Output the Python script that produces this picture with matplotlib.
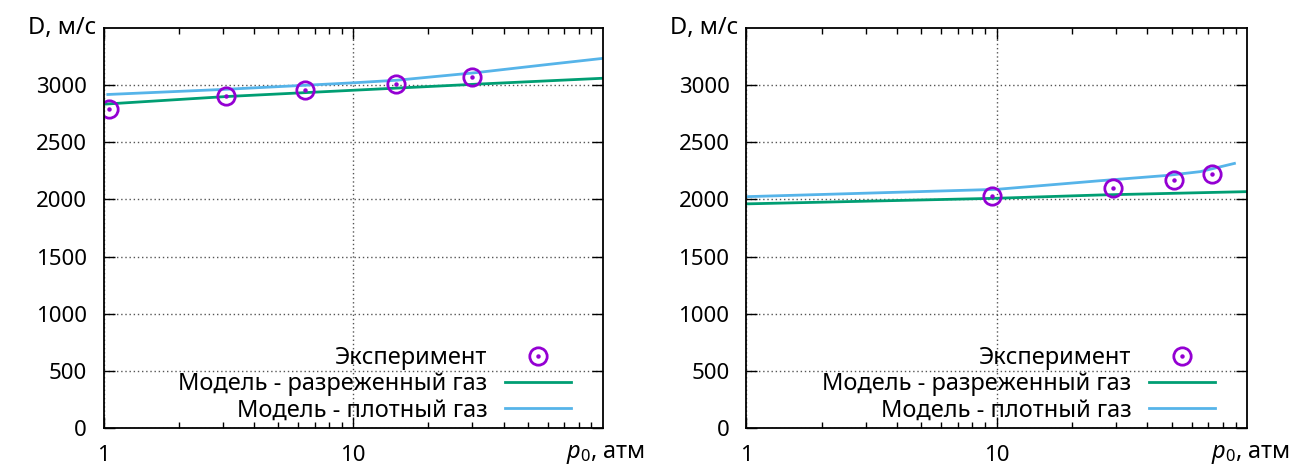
import matplotlib
matplotlib.use("Agg")
import matplotlib.pyplot as plt
from matplotlib.ticker import LogLocator, FixedLocator, FixedFormatter, NullFormatter
from matplotlib.legend_handler import HandlerTuple

plt.rcParams['font.family'] = ['Noto Sans', 'DejaVu Sans']
plt.rcParams['mathtext.fontset'] = 'custom'
plt.rcParams['mathtext.it'] = 'Noto Sans:italic'
plt.rcParams['mathtext.rm'] = 'Noto Sans'
plt.rcParams['font.size'] = 16

# левая панель
exp_p_left = [1.05, 3.08, 6.4, 14.9, 30.0]
exp_d_left = [2790, 2908, 2958, 3010, 3074]
rare_p_left = [1.0, 3.1, 10, 31, 100]
rare_d_left = [2833, 2900, 2955, 3008, 3060]
dense_p_left = [1.04, 3.0, 10, 15, 31, 61, 100]
dense_d_left = [2918, 2962, 3020, 3043, 3109, 3182, 3234]

# правая панель
exp_p_right = [9.6, 29.1, 51, 72.4]
exp_d_right = [2027, 2097, 2173, 2225]
rare_p_right = [1.0, 10, 26, 100]
rare_d_right = [1961, 2010, 2039, 2068]
dense_p_right = [1.0, 10, 26, 48, 65, 89]
dense_d_right = [2024, 2088, 2164, 2210, 2243, 2315]

labels = ['Эксперимент', 'Модель - разреженный газ', 'Модель - плотный газ']
violet = '#9400d3'
green = '#009e73'
blue = '#56b4e9'

fig = plt.figure(figsize=(12.91, 4.66), dpi=100)
ax1 = fig.add_axes([0.0802, 0.0815, 0.3868, 0.8585])
ax2 = fig.add_axes([0.578, 0.0815, 0.388, 0.8585])

panels = [
    (ax1, exp_p_left, exp_d_left, rare_p_left, rare_d_left, dense_p_left, dense_d_left),
    (ax2, exp_p_right, exp_d_right, rare_p_right, rare_d_right, dense_p_right, dense_d_right),
]

for ax, ep, ed, rp, rd, dp, dd in panels:
    ax.set_xscale('log')
    ax.set_xlim(1, 100)
    ax.set_ylim(0, 3500)
    ax.xaxis.set_major_locator(FixedLocator([1, 10]))
    ax.xaxis.set_major_formatter(FixedFormatter(['1', '10']))
    ax.xaxis.set_minor_locator(LogLocator(base=10, subs=range(2, 10)))
    ax.xaxis.set_minor_formatter(NullFormatter())
    ax.set_yticks(range(0, 3001, 500))
    ax.tick_params(which='both', direction='in', top=True, right=True, width=1)
    ax.tick_params(which='major', length=8, pad=12)
    ax.tick_params(which='minor', length=4)
    for s in ax.spines.values():
        s.set_linewidth(1.3)
    ax.grid(True, which='major', linestyle=(0, (1, 2)), color='#555555', linewidth=1)

    l_rare, = ax.plot(rp, rd, color=green, lw=2, label=labels[1])
    l_dense, = ax.plot(dp, dd, color=blue, lw=2, label=labels[2])
    m1, = ax.plot(ep, ed, 'o', mfc='none', mec=violet, ms=12.5, mew=2, ls='none')
    m2, = ax.plot(ep, ed, 'o', color=violet, ms=2.2, ls='none')

    ax.legend([(m1, m2), l_rare, l_dense], labels, loc='lower right',
              bbox_to_anchor=(0.955, -0.01), frameon=False, markerfirst=False,
              handler_map={tuple: HandlerTuple(ndivide=1)}, fontsize=17,
              handlelength=2.8, handletextpad=0.75, labelspacing=0.1,
              borderaxespad=0.0)

    ax.text(-0.015, 1.0, 'D, м/с', transform=ax.transAxes, ha='right', va='center',
            fontsize=17)
    ax.text(1.085, -0.065, r'$p_0$, атм', transform=ax.transAxes, ha='right', va='center',
            fontsize=17)

fig.savefig('out.png', dpi=100)
